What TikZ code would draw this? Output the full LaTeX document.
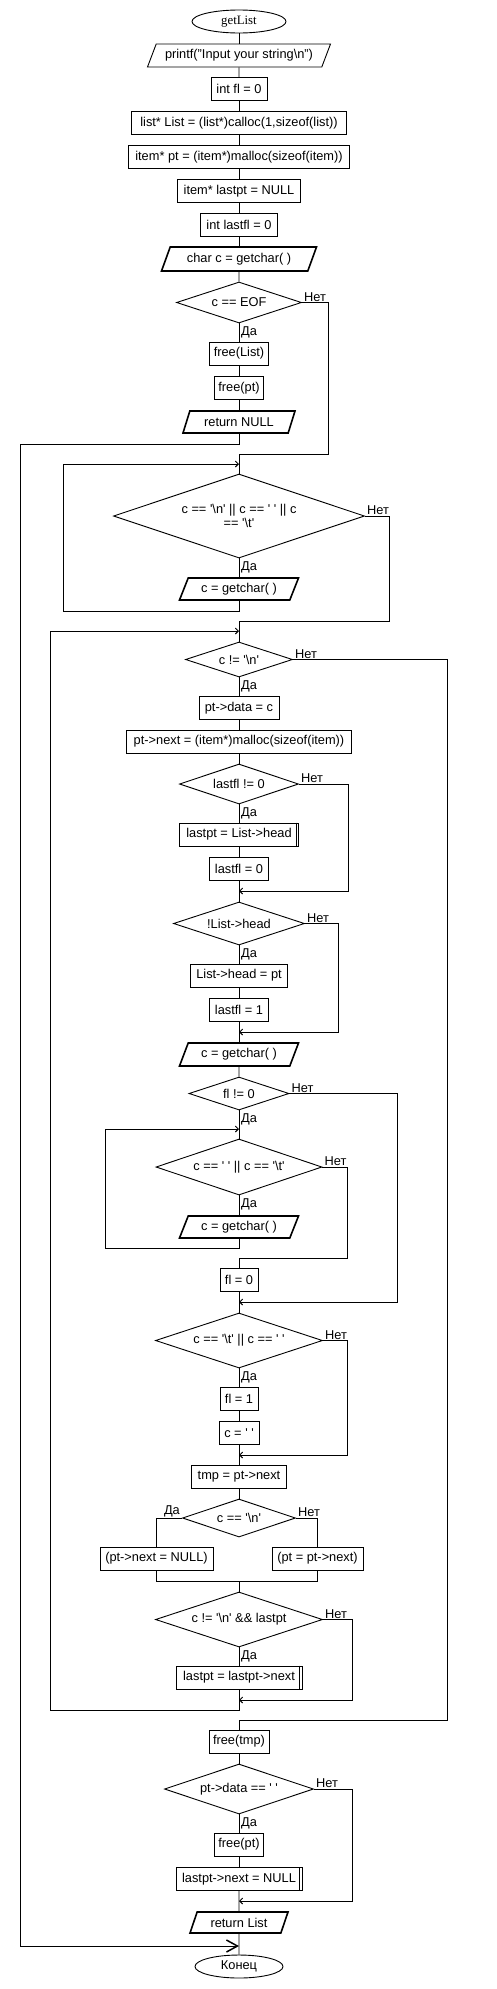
\documentclass[tikz,border=0pt]{standalone}
\usepackage{fontspec}
\setmainfont{Liberation Sans}
\newfontfamily\serifgl{Liberation Serif}
\usetikzlibrary{shapes.geometric,arrows.meta}
\newcommand\q{\textquotesingle}
\newcommand\bs{\textbackslash}
\begin{document}
\begin{tikzpicture}[x=1pt,y=-1pt,
  every node/.style={font=\fontsize{12.8}{14.5}\selectfont, text=black},
  base/.style={draw, line width=0.9pt, inner sep=1pt},
  proc/.style={base, rectangle, minimum height=23pt},
  dec/.style={base, diamond, inner sep=0pt, aspect=3},
  io/.style={base, trapezium, trapezium left angle=58, trapezium right angle=122, trapezium stretches body, minimum height=23pt},
  iothick/.style={io, line width=1.6pt},
  term/.style={base, ellipse, inner sep=0pt, minimum height=23pt},
  dblr/.style={append after command={[line width=0.9pt] ([xshift=-3pt]\tikzlastnode.north east) edge ([xshift=-3pt]\tikzlastnode.south east)}},
  lbl/.style={inner sep=1pt},
  no/.style={lbl, anchor=south west, xshift=1pt},
  yes/.style={lbl, anchor=north west, xshift=1pt, yshift=-2pt},
  line/.style={line width=0.9pt},
  arr/.style={line, -{Straight Barb[length=3pt,width=6pt]}},
  bigarr/.style={line, -{Straight Barb[length=11pt,width=12pt,line width=1.5pt]}},
]
\useasboundingbox (0,0) rectangle (497,1989);

% ---- nodes ----
\node[term, minimum width=94pt, font=\serifgl\fontsize{12.8}{14.5}\selectfont] (start) at (239,21.5) {getList};
\node[io, minimum width=183pt] (n1) at (239,55.5) {printf("Input your string\bs{}n")};
\node[proc, minimum width=56pt] (n2) at (239,89) {int fl = 0};
\node[proc, minimum width=215pt] (n3) at (239,123) {list* List = (list*)calloc(1,sizeof(list))};
\node[proc, minimum width=221pt] (n4) at (239,157) {item* pt = (item*)malloc(sizeof(item))};
\node[proc, minimum width=123pt] (n5) at (239,191) {item* lastpt = NULL};
\node[proc, minimum width=77pt] (n6) at (239,225) {int lastfl = 0};
\node[iothick, minimum width=155pt, minimum height=24pt] (n7) at (239,259) {char c = getchar( )};
\node[dec, minimum width=125pt, minimum height=41pt] (n8) at (239,302.5) {c == EOF};
\node[proc, minimum width=59pt] (n9) at (239,353.5) {free(List)};
\node[proc, minimum width=49pt] (n10) at (239,388) {free(pt)};
\node[iothick, minimum width=112pt, minimum height=22pt] (n11) at (239,422) {return NULL};
\node[dec, minimum width=251pt, minimum height=84pt, align=center] (d2) at (239,516) {c == \q\bs{}n\q{} || c == \q{} \q{} || c\\== \q\bs{}t\q};
\node[iothick, minimum width=119pt, minimum height=22pt] (g1) at (239,589) {c = getchar( )};
\node[dec, minimum width=107pt, minimum height=35pt] (d3) at (239,659.5) {c != \q\bs{}n\q};
\node[proc, minimum width=80pt] (p1) at (239,708) {pt->data = c};
\node[proc, minimum width=225pt] (p2) at (239,741.5) {pt->next = (item*)malloc(sizeof(item))};
\node[dec, minimum width=119pt, minimum height=40pt] (d4) at (239,784) {lastfl != 0};
\node[proc, minimum width=119pt, dblr] (p3) at (239,834.5) {lastpt = List->head};
\node[proc, minimum width=59pt] (p4) at (239,868.5) {lastfl = 0};
\node[dec, minimum width=131pt, minimum height=43pt] (d5) at (239,923.5) {!List->head};
\node[proc, minimum width=97pt] (p5) at (239,975.5) {List->head = pt};
\node[proc, minimum width=59pt] (p6) at (239,1009.5) {lastfl = 1};
\node[iothick, minimum width=119pt] (g2) at (239,1054.5) {c = getchar( )};
\node[dec, minimum width=100pt, minimum height=33pt] (d6) at (239,1093.5) {fl != 0};
\node[dec, minimum width=166pt, minimum height=56pt] (d7) at (239,1167) {c == \q{} \q{} || c == \q\bs{}t\q};
\node[iothick, minimum width=119pt, minimum height=22pt] (g3) at (239,1227) {c = getchar( )};
\node[proc, minimum width=38pt] (p7) at (239,1279.5) {fl = 0};
\node[dec, minimum width=167pt, minimum height=55pt] (d8) at (239,1340.5) {c == \q\bs{}t\q{} || c == \q{} \q};
\node[proc, minimum width=38pt] (p8) at (239,1398.5) {fl = 1};
\node[proc, minimum width=40pt] (p9) at (239,1433) {c = \q{} \q};
\node[proc, minimum width=95pt] (p10) at (239,1476.5) {tmp = pt->next};
\node[dec, minimum width=113pt, minimum height=38pt] (d9) at (239,1518) {c == \q\bs{}n\q};
\node[proc, minimum width=113pt] (p11) at (156.5,1558.5) {(pt->next = NULL)};
\node[proc, minimum width=91pt] (p12) at (317.5,1558.5) {(pt = pt->next)};
\node[dec, minimum width=167pt, minimum height=55pt] (d10) at (239,1619.5) {c != \q\bs{}n\q{} \&\& lastpt};
\node[proc, minimum width=126pt, dblr] (p13) at (239,1677.5) {lastpt = lastpt->next};
\node[proc, minimum width=60pt] (p14) at (239,1741.5) {free(tmp)};
\node[dec, minimum width=149pt, minimum height=50pt] (d11) at (239,1789) {pt->data == \q{} \q};
\node[proc, minimum width=49pt] (p15) at (239,1844.5) {free(pt)};
\node[proc, minimum width=126pt, dblr] (p16) at (239,1879) {lastpt->next = NULL};
\node[iothick, minimum width=98pt, minimum height=21pt] (g4) at (239,1922.5) {return List};
\node[term, minimum width=88pt] (end) at (239,1966.5) {Конец};

% ---- labels ----
\node[no] (ln8) at (n8.east) {Нет};
\node[yes] (ly8) at (n8.south) {Да};
\node[no] (ln2) at (d2.east) {Нет};
\node[yes] (ly2) at (d2.south) {Да};
\node[no] (ln3) at (d3.east) {Нет};
\node[yes] (ly3) at (d3.south) {Да};
\node[no] (ln4) at (d4.east) {Нет};
\node[yes] (ly4) at (d4.south) {Да};
\node[no] (ln5) at (d5.east) {Нет};
\node[yes] (ly5) at (d5.south) {Да};
\node[no] (ln6) at (d6.east) {Нет};
\node[yes] (ly6) at (d6.south) {Да};
\node[no] (ln7) at (d7.east) {Нет};
\node[yes] (ly7) at (d7.south) {Да};
\node[no] (ln8b) at (d8.east) {Нет};
\node[yes] (ly8b) at (d8.south) {Да};
\node[no] (ln9) at (d9.east) {Нет};
\node[lbl, anchor=south east, xshift=-1pt] (ly9) at (d9.west) {Да};
\node[no] (ln10) at (d10.east) {Нет};
\node[yes] (ly10) at (d10.south) {Да};
\node[no] (ln11) at (d11.east) {Нет};
\node[yes] (ly11) at (d11.south) {Да};

% ---- coordinates ----
\coordinate (a1) at (328,454);
\coordinate (a2) at (239,454);
\coordinate (b2) at (20,444);
\coordinate (b4) at (239,1946);
\coordinate (l1) at (63,611);
\coordinate (l1e) at (239,464);
\coordinate (r2) at (389,621);
\coordinate (r2m) at (239,621);
\coordinate (l2) at (50,1710);
\coordinate (l2e) at (239,631);
\coordinate (r3) at (447,1720);
\coordinate (r3m) at (239,1720);
\coordinate (r4) at (348,891);
\coordinate (m4) at (239,891);
\coordinate (r5) at (338,1032);
\coordinate (m5) at (239,1032);
\coordinate (r6) at (397,1302);
\coordinate (m6) at (239,1302);
\coordinate (l3) at (105,1248);
\coordinate (l3e) at (239,1129);
\coordinate (r7) at (347,1258);
\coordinate (m7) at (239,1258);
\coordinate (r8) at (347,1455);
\coordinate (m8) at (239,1455);
\coordinate (m9) at (239,1581);
\coordinate (r10) at (352,1700);
\coordinate (m10) at (239,1700);
\coordinate (r11) at (352,1901);
\coordinate (m11) at (239,1901);

% ---- straight flow ----
\draw[line] (start) -- (n1);
\draw[line] (n1) -- (n2);
\draw[line] (n2) -- (n3);
\draw[line] (n3) -- (n4);
\draw[line] (n4) -- (n5);
\draw[line] (n5) -- (n6);
\draw[line] (n6) -- (n7);
\draw[line] (n7) -- (n8);
\draw[line] (n8) -- (n9);
\draw[line] (n9) -- (n10);
\draw[line] (n10) -- (n11);
\draw[line] (d2) -- (g1);
\draw[line] (d3) -- (p1);
\draw[line] (p1) -- (p2);
\draw[line] (p2) -- (d4);
\draw[line] (d4) -- (p3);
\draw[line] (p3) -- (p4);
\draw[line] (p4) -- (d5);
\draw[line] (d5) -- (p5);
\draw[line] (p5) -- (p6);
\draw[line] (p6) -- (g2);
\draw[line] (g2) -- (d6);
\draw[line] (d6) -- (d7);
\draw[line] (d7) -- (g3);
\draw[line] (p7) -- (d8);
\draw[line] (d8) -- (p8);
\draw[line] (p8) -- (p9);
\draw[line] (p9) -- (p10);
\draw[line] (p10) -- (d9);
\draw[line] (d10) -- (p13);
\draw[line] (p14) -- (d11);
\draw[line] (d11) -- (p15);
\draw[line] (p15) -- (p16);
\draw[line] (p16) -- (g4);
\draw[line] (g4) -- (end);

% ---- branches ----
\draw[line] (n8.east) -| (a1) -- (a2) -- (d2.north);
\draw[bigarr] (n11.south) |- (b2) |- (b4);
\draw[arr] (g1.south) |- (l1) |- (l1e);
\draw[line] (d2.east) -| (r2) -- (r2m) -- (d3.north);
\draw[arr] (p13.south) |- (l2) |- (l2e);
\draw[line] (d3.east) -| (r3) -- (r3m) -- (p14.north);
\draw[arr] (d4.east) -| (r4) -- (m4);
\draw[arr] (d5.east) -| (r5) -- (m5);
\draw[arr] (d6.east) -| (r6) -- (m6);
\draw[arr] (g3.south) |- (l3) |- (l3e);
\draw[line] (d7.east) -| (r7) -- (m7) -- (p7.north);
\draw[arr] (d8.east) -| (r8) -- (m8);
\draw[line] (d9.west) -| (p11.north);
\draw[line] (d9.east) -| (p12.north);
\draw[line] (p11.south) |- (m9);
\draw[line] (p12.south) |- (m9);
\draw[line] (m9) -- (d10.north);
\draw[arr] (d10.east) -| (r10) -- (m10);
\draw[arr] (d11.east) -| (r11) -- (m11);
\end{tikzpicture}
\end{document}
